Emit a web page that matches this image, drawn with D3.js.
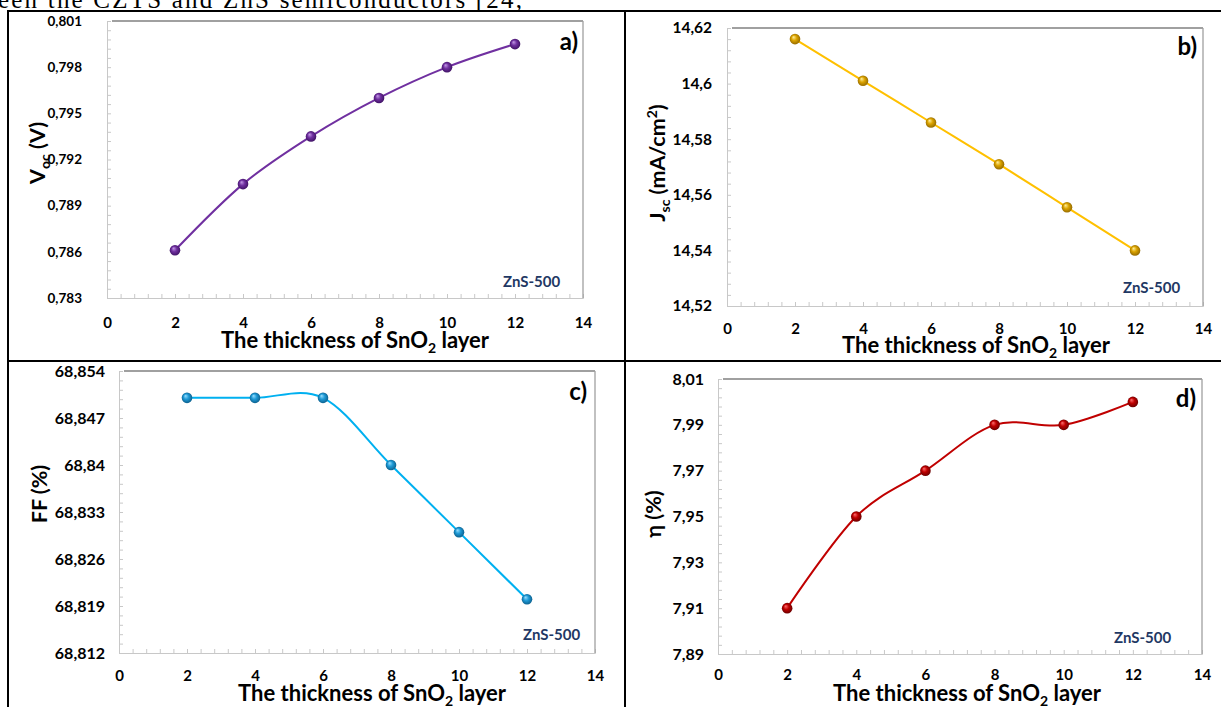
<!DOCTYPE html>
<html>
<head>
<meta charset="utf-8">
<script src="https://cdn.jsdelivr.net/npm/d3@7"></script>
<style>
  body { margin: 0; background: #fff; }
  svg text { font-family: Lato, "Open Sans", sans-serif; font-weight: 700; }
  .serif { font-family: "Liberation Serif", "DejaVu Serif", serif !important; font-weight: 400 !important; }
</style>
</head>
<body>
<svg id="chart" width="1221" height="707"></svg>
<script>
// data
const thickness = [2, 4, 6, 8, 10, 12];
const vocValues = [0.7861, 0.7904, 0.7935, 0.7960, 0.7980, 0.7995];
const jscValues = [14.616, 14.601, 14.586, 14.571, 14.5555, 14.540];
const ffValues  = [68.85, 68.85, 68.85, 68.84, 68.83, 68.82];
const etaValues = [7.91, 7.95, 7.97, 7.99, 7.99, 8.00];

// tick labels
const xTicks   = [0, 2, 4, 6, 8, 10, 12, 14];
const vocTicks = [0.783, 0.786, 0.789, 0.792, 0.795, 0.798, 0.801];
const jscTicks = [14.52, 14.54, 14.56, 14.58, 14.60, 14.62];
const ffTicks  = [68.812, 68.819, 68.826, 68.833, 68.840, 68.847, 68.854];
const etaTicks = [7.89, 7.91, 7.93, 7.95, 7.97, 7.99, 8.01];

const panelTags = ["a)", "b)", "c)", "d)"];
const sampleLabel = "ZnS-500";
const xTitle = "The thickness of SnO";

const svg = d3.select("#chart");
const defs = svg.append("defs");

// table frame + the cut text line at the top
svg.append("text").attr("class", "serif")
  .attr("x", -2).attr("y", 8)
  .attr("font-size", 25)
  .attr("textLength", 524).attr("lengthAdjust", "spacing")
  .text("een the CZTS and ZnS semiconductors [24,");

const frame = svg.append("g").attr("stroke", "#000").attr("stroke-width", 2);
frame.append("line").attr("x1", 7).attr("x2", 1221).attr("y1", 11).attr("y2", 11);
frame.append("line").attr("x1", 7).attr("x2", 1221).attr("y1", 361).attr("y2", 361);
frame.append("line").attr("x1", 8).attr("x2", 8).attr("y1", 10).attr("y2", 707);
frame.append("line").attr("x1", 625).attr("x2", 625).attr("y1", 10).attr("y2", 707);

const fmt = v => String(+v.toFixed(4)).replace(".", ",");

const panels = [
  { tag: panelTags[0], values: vocValues, ticks: vocTicks, minor: 0.0006,
    left: 107, top: 21, right: 583, bottom: 298, pad: 25, yFont: 13.5, xPad: 19,
    color: "#7030a0", light: "#c49be6", dark: "#3a0f5e",
    tagX: 578, tagY: 50, zx: 503, zy: 287,
    titleX: 355, titleY: 348, yTitleX: 45, yTitleY: 153, yTitle: "V", ySub: "oc", yRest: " (V)" },
  { tag: panelTags[1], values: jscValues, ticks: jscTicks, minor: 0.004,
    left: 727, top: 28, right: 1203, bottom: 306, pad: 15, yFont: 15.5, xPad: 17,
    color: "#ffc000", light: "#fff0a0", dark: "#8c6400", marker: "#dca400",
    tagX: 1197, tagY: 55, zx: 1123, zy: 293,
    titleX: 976, titleY: 353, yTitleX: 665, yTitleY: 163, yTitle: "J", ySub: "sc", yRest: " (mA/cm", ySup: "2", yEnd: ")" },
  { tag: panelTags[2], values: ffValues, ticks: ffTicks, minor: 0.0014,
    left: 119, top: 371, right: 595, bottom: 653, pad: 14, yFont: 16, xPad: 17,
    color: "#00b0f0", light: "#9be0ff", dark: "#0a5a86", marker: "#1f9ad6",
    tagX: 587, tagY: 400, zx: 523, zy: 640,
    titleX: 372, titleY: 701, yTitleX: 47, yTitleY: 494, yTitle: "FF (%)" },
  { tag: panelTags[3], values: etaValues, ticks: etaTicks, minor: 0.004,
    left: 718, top: 379, right: 1202, bottom: 654, pad: 14, yFont: 16, xPad: 15,
    color: "#c00000", light: "#ff7070", dark: "#600000",
    tagX: 1196, tagY: 407, zx: 1114, zy: 643,
    titleX: 967, titleY: 701, yTitleX: 661, yTitleY: 514, yTitle: "\u03b7 (%)" }
];

panels.forEach((p, i) => {
  const x = d3.scaleLinear().domain([0, 14]).range([p.left, p.right]);
  const y = d3.scaleLinear().domain(d3.extent(p.ticks)).range([p.bottom, p.top]);
  const g = svg.append("g");

  // sphere marker gradient
  const grad = defs.append("radialGradient").attr("id", "ball" + i)
    .attr("cx", "50%").attr("cy", "50%").attr("r", "55%")
    .attr("fx", "35%").attr("fy", "30%");
  grad.append("stop").attr("offset", "0%").attr("stop-color", p.light);
  grad.append("stop").attr("offset", "45%").attr("stop-color", p.marker || p.color);
  grad.append("stop").attr("offset", "100%").attr("stop-color", p.dark);

  // minor ticks, inside the plot
  const yMinor = d3.range(0, Math.round((y.domain()[1] - y.domain()[0]) / p.minor) + 1)
    .map(k => y.domain()[0] + k * p.minor);
  const xMinor = d3.range(0, 36).map(k => k * 0.4);

  g.append("g").attr("transform", `translate(${p.left},0)`)
    .call(d3.axisRight(y).tickValues(yMinor).tickSize(4).tickFormat(""))
    .call(a => a.selectAll("line,path").attr("stroke", "#c8c8c8"));
  g.append("g").attr("transform", `translate(0,${p.bottom})`)
    .call(d3.axisTop(x).tickValues(xMinor).tickSize(4).tickFormat(""))
    .call(a => a.selectAll("line,path").attr("stroke", "#c8c8c8"));

  // plot border top + right
  g.append("line").attr("x1", p.left + 5).attr("x2", p.right)
    .attr("y1", p.top).attr("y2", p.top).attr("stroke", "#808080").attr("stroke-width", 1.3);
  g.append("line").attr("x1", p.right).attr("x2", p.right)
    .attr("y1", p.top).attr("y2", p.bottom).attr("stroke", "#a0a0a0").attr("stroke-width", 1.3);

  // tick labels
  g.append("g").attr("transform", `translate(${p.left},0)`)
    .call(d3.axisLeft(y).tickValues(p.ticks).tickSize(0).tickPadding(p.pad).tickFormat(fmt))
    .call(a => a.select(".domain").remove())
    .call(a => a.selectAll("text").attr("font-size", p.yFont).attr("fill", "#000")
      .style("font-family", "Lato, sans-serif").style("font-weight", 700));
  g.append("g").attr("transform", `translate(0,${p.bottom})`)
    .call(d3.axisBottom(x).tickValues(xTicks).tickSize(0).tickPadding(p.xPad).tickFormat(d3.format("d")))
    .call(a => a.select(".domain").remove())
    .call(a => a.selectAll("text").attr("font-size", 15).attr("fill", "#000")
      .style("font-family", "Lato, sans-serif").style("font-weight", 700));

  // smoothed line + markers
  const pts = thickness.map((t, k) => [t, p.values[k]]);
  g.append("path").datum(pts)
    .attr("fill", "none").attr("stroke", p.color).attr("stroke-width", 2)
    .attr("d", d3.line().x(d => x(d[0])).y(d => y(d[1])).curve(d3.curveCardinal.tension(0)));
  g.selectAll("circle").data(pts).join("circle")
    .attr("cx", d => x(d[0])).attr("cy", d => y(d[1])).attr("r", 5.3)
    .attr("fill", `url(#ball${i})`);

  // panel tag and sample label
  g.append("text").attr("x", p.tagX).attr("y", p.tagY).attr("text-anchor", "end")
    .attr("font-size", 24).text(p.tag);
  g.append("text").attr("x", p.zx).attr("y", p.zy).attr("font-size", 15)
    .attr("fill", "#1f3864").text(sampleLabel);

  // x title with subscript
  const xt = g.append("text").attr("x", p.titleX).attr("y", p.titleY)
    .attr("text-anchor", "middle").attr("font-size", 22);
  xt.append("tspan").text(xTitle);
  xt.append("tspan").attr("font-size", 14).attr("dy", 5).text("2");
  xt.append("tspan").attr("dy", -5).text(" layer");

  // y title
  const yt = g.append("text")
    .attr("transform", `translate(${p.yTitleX},${p.yTitleY}) rotate(-90)`)
    .attr("text-anchor", "middle").attr("font-size", 21.5);
  yt.append("tspan").text(p.yTitle);
  if (p.ySub) {
    yt.append("tspan").attr("font-size", 14).attr("dy", 5).text(p.ySub);
    yt.append("tspan").attr("dy", -5).text(p.yRest);
  }
  if (p.ySup) {
    yt.append("tspan").attr("font-size", 14).attr("dy", -8).text(p.ySup);
    yt.append("tspan").attr("dy", 8).text(p.yEnd);
  }
});
</script>
</body>
</html>
